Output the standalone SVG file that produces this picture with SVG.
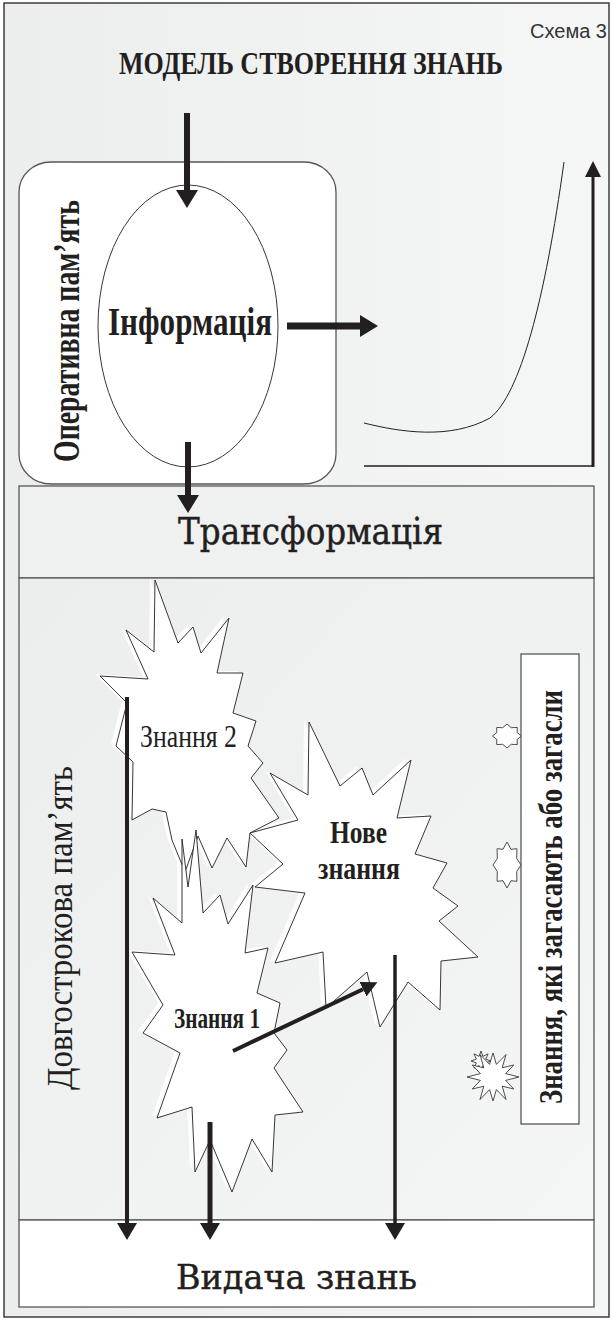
<svg xmlns="http://www.w3.org/2000/svg" width="612" height="1321" viewBox="0 0 612 1321">
  <defs>
    <style>
      .box { stroke: #575757; stroke-width: 1.3; }
      .star { fill: #ffffff; stroke: #231f20; stroke-width: 0.9; stroke-linejoin: miter; }
      .ghost { fill: #ffffff; opacity: 0.85; }
      .thin { fill: #ffffff; stroke: #3a3a3a; stroke-width: 0.9; }
      .flow { fill: none; stroke: #231f20; }
      .serif { font-family: "Liberation Serif", "Times New Roman", serif; fill: #231f20; }
      .wide { font-family: "DejaVu Serif", "Liberation Serif", serif; fill: #231f20; stroke: #231f20; stroke-width: 0.45; }
      .sans { font-family: "Liberation Sans", Arial, sans-serif; fill: #333333; }
      .b { font-weight: bold; }
    </style>
    <linearGradient id="paper" x1="0" y1="0" x2="1" y2="0">
      <stop offset="0" stop-color="#eceeee"/>
      <stop offset="1" stop-color="#f5f6f6"/>
    </linearGradient>
    <linearGradient id="ltm" x1="0" y1="0" x2="1" y2="1">
      <stop offset="0" stop-color="#eceeee"/>
      <stop offset="1" stop-color="#f4f5f5"/>
    </linearGradient>
    <marker id="head-big" markerUnits="userSpaceOnUse" markerWidth="18" markerHeight="22" refX="0" refY="11" orient="auto">
      <path d="M0,0 L18,11 L0,22 z" fill="#231f20"/>
    </marker>
    <marker id="head-mid" markerUnits="userSpaceOnUse" markerWidth="17" markerHeight="20" refX="0" refY="10" orient="auto">
      <path d="M0,0 L17,10 L0,20 z" fill="#231f20"/>
    </marker>
    <marker id="head-small" markerUnits="userSpaceOnUse" markerWidth="16" markerHeight="16" refX="0" refY="8" orient="auto">
      <path d="M0,0 L16,8 L0,16 z" fill="#231f20"/>
    </marker>
  </defs>

  <!-- page frame -->
  <rect id="frame" x="4" y="3" width="605" height="1314" fill="url(#paper)" stroke="#3c3c3c" stroke-width="1.5"/>

  <g id="caption">
    <text class="sans" x="607" y="38" font-size="20" text-anchor="end">Схема 3</text>
    <text class="serif b" x="119" y="74" font-size="32" textLength="384" lengthAdjust="spacingAndGlyphs">МОДЕЛЬ СТВОРЕННЯ ЗНАНЬ</text>
  </g>

  <!-- working memory -->
  <g id="working-memory">
    <rect class="box" x="19" y="162" width="317" height="322" rx="32" ry="30" fill="#ffffff"/>
    <text class="serif b" transform="translate(79,462) rotate(-90)" font-size="38" textLength="262" lengthAdjust="spacingAndGlyphs">Оперативна пам’ять</text>
  </g>

  <g id="information">
    <ellipse cx="188" cy="326" rx="90" ry="141" fill="#ffffff" stroke="#231f20" stroke-width="0.9"/>
    <text class="serif b" x="108" y="335" font-size="39" textLength="164" lengthAdjust="spacingAndGlyphs">Інформація</text>
  </g>

  <!-- growth curve with axes -->
  <g id="growth-chart">
    <path d="M364,423 C400,432 450,440 490,418 C520,395 545,300 564,162" fill="none" stroke="#231f20" stroke-width="1"/>
    <path d="M364,466 H594" fill="none" stroke="#231f20" stroke-width="1.6"/>
    <path d="M593,467 V177" fill="none" stroke="#231f20" stroke-width="3" marker-end="url(#head-small)"/>
  </g>

  <g id="transformation">
    <rect class="box" x="19" y="486" width="575" height="92" fill="#eff0f0"/>
    <text class="wide" x="178" y="544" font-size="37" textLength="265" lengthAdjust="spacingAndGlyphs">Трансформація</text>
  </g>

  <g id="long-term-memory">
    <rect class="box" x="19" y="578" width="575" height="642" fill="url(#ltm)"/>
    <text class="serif" transform="translate(72,1090) rotate(-90)" font-size="36" textLength="324" lengthAdjust="spacingAndGlyphs">Довгострокова пам’ять</text>
  </g>

  <!-- soft white halos behind the knowledge bursts -->
  <g id="halos" transform="translate(-5,-2)">
    <polygon class="ghost" points="155,580 178,643 193,627 201,653 229,618 217,673 243,673 233,713 256,721 248,746 263,763 251,778 279,818 250,833 246,867 227,838 212,868 198,836 185,872 172,840 166,812 152,809 132,820 133,762 116,746 127,703 100,676 148,679 126,630 154,652"/>
    <polygon class="ghost" points="309,722 340,786 362,768 373,795 411,760 397,818 431,816 415,854 447,863 433,888 458,906 439,921 478,957 441,961 440,1010 408,982 380,1027 367,972 326,1008 323,952 275,963 305,893 255,887 283,864 250,833 298,820 270,773 308,795"/>
    <polygon class="ghost" points="153,898 182,923 182,839 188,887 196,830 203,913 220,895 228,924 253,885 245,953 268,948 257,993 280,1003 274,1033 287,1050 274,1068 303,1112 275,1115 272,1172 252,1139 232,1192 210,1140 195,1172 192,1107 157,1118 180,1053 143,1033 163,1005 132,952 175,955"/>
  </g>

  <g id="knowledge-2">
    <polygon class="star" points="155,580 178,643 193,627 201,653 229,618 217,673 243,673 233,713 256,721 248,746 263,763 251,778 279,818 250,833 246,867 227,838 212,868 198,836 185,872 172,840 166,812 152,809 132,820 133,762 116,746 127,703 100,676 148,679 126,630 154,652"/>
    <text class="serif" x="140" y="747" font-size="32" textLength="97" lengthAdjust="spacingAndGlyphs">Знання 2</text>
  </g>

  <g id="new-knowledge">
    <polygon class="star" points="309,722 340,786 362,768 373,795 411,760 397,818 431,816 415,854 447,863 433,888 458,906 439,921 478,957 441,961 440,1010 408,982 380,1027 367,972 326,1008 323,952 275,963 305,893 255,887 283,864 250,833 298,820 270,773 308,795"/>
    <text class="serif b" x="330" y="843" font-size="31" textLength="57" lengthAdjust="spacingAndGlyphs">Нове</text>
    <text class="serif b" x="318" y="879" font-size="31" textLength="82" lengthAdjust="spacingAndGlyphs">знання</text>
  </g>

  <g id="knowledge-1">
    <polygon class="star" points="153,898 182,923 182,839 188,887 196,830 203,913 220,895 228,924 253,885 245,953 268,948 257,993 280,1003 274,1033 287,1050 274,1068 303,1112 275,1115 272,1172 252,1139 232,1192 210,1140 195,1172 192,1107 157,1118 180,1053 143,1033 163,1005 132,952 175,955"/>
    <text class="serif b" x="174" y="1028" font-size="30" textLength="86" lengthAdjust="spacingAndGlyphs">Знання 1</text>
  </g>

  <!-- small fading bursts -->
  <g id="fading-bursts">
    <polygon class="thin" points="521.5,736 517.2,739.4 517.3,744.5 511.2,744.3 507,748 502.8,744.3 496.7,744.5 496.8,739.4 492.5,736 496.8,732.6 496.7,727.5 502.8,727.7 507,724 511.2,727.7 517.3,727.5 517.2,732.6"/>
    <polygon class="thin" points="521,865 516.7,871.5 516.9,881.3 511,880.7 507,888 503,880.7 497.1,881.3 497.3,871.5 493,865 497.3,858.5 497.1,848.7 503,849.3 507,842 511,849.3 516.9,848.7 516.7,858.5"/>
    <polygon class="thin" points="491,1061 485.6,1062.9 488.1,1068.1 482.9,1065.6 481,1071 479.1,1065.6 473.9,1068.1 476.4,1062.9 471,1061 476.4,1059.1 473.9,1053.9 479.1,1056.4 481,1051 482.9,1056.4 488.1,1053.9 485.6,1059.1"/>
    <polygon class="thin" points="519,1077 505.6,1080.4 513.8,1089 502.2,1086.2 506,1099.5 496.4,1089.6 493,1101 489.6,1089.6 480,1099.5 483.8,1086.2 472.2,1089 480.4,1080.4 467,1077 480.4,1073.6 472.2,1065 483.8,1067.8 480,1054.5 489.6,1064.4 493,1053 496.4,1064.4 506,1054.5 502.2,1067.8 513.8,1065 505.6,1073.6"/>
  </g>

  <g id="fading-knowledge">
    <rect class="box" x="521" y="654" width="58" height="470" fill="#ffffff"/>
    <text class="serif b" transform="translate(562,1104) rotate(-90)" font-size="34" textLength="414" lengthAdjust="spacingAndGlyphs">Знання, які загасають або загасли</text>
  </g>

  <g id="knowledge-output">
    <rect class="box" x="19" y="1220" width="575" height="87" fill="#ffffff"/>
    <text class="wide" x="176" y="1289" font-size="33" textLength="241" lengthAdjust="spacingAndGlyphs">Видача знань</text>
  </g>

  <g id="connectors">
    <path class="flow" d="M187,113 V190" stroke-width="6" marker-end="url(#head-big)"/>
    <path class="flow" d="M188,442 V495" stroke-width="6" marker-end="url(#head-big)"/>
    <path class="flow" d="M287,326 H360" stroke-width="7" marker-end="url(#head-big)"/>
    <path class="flow" d="M127,697 V1223" stroke-width="4" marker-end="url(#head-mid)"/>
    <path class="flow" d="M210,1122 V1223" stroke-width="5" marker-end="url(#head-mid)"/>
    <path class="flow" d="M395,955 V1223" stroke-width="3.5" marker-end="url(#head-mid)"/>
    <path class="flow" d="M233,1051 L363,989.2" stroke-width="4" marker-end="url(#head-small)"/>
  </g>
</svg>
